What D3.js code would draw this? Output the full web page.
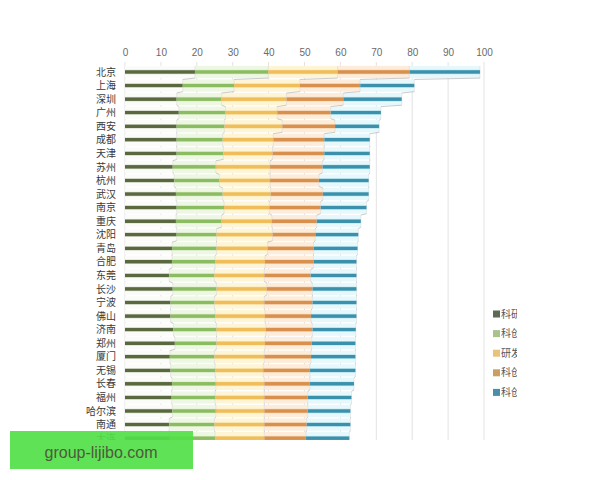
<!DOCTYPE html>
<html>
<head>
<meta charset="utf-8">
<script src="https://cdn.jsdelivr.net/npm/d3@7"></script>
<style>
  html, body { margin: 0; padding: 0; background: #fff; }
  svg { display: block; }
  text { font-family: "Noto Sans CJK SC", "Noto Sans", sans-serif; }
</style>
</head>
<body>
<div id="chart"></div>
<script>
// ---- data ----
const cities = ["北京","上海","深圳","广州","西安","成都","天津","苏州","杭州","武汉","南京","重庆","沈阳","青岛","合肥","东莞","长沙","宁波","佛山","济南","郑州","厦门","无锡","长春","福州","哈尔滨","南通","大连"];
const seriesNames = ["科研投入","科创人才","研发产出","科创企业","科创环境"];
const s1 = [19.5,16.1,14.4,15.0,14.4,14.4,14.4,13.3,13.7,14.2,14.4,14.2,14.4,13.1,13.1,12.3,13.3,12.7,12.7,13.5,13.9,12.5,12.7,13.1,13.0,13.2,12.3,12.5];
const s2 = [20.4,14.3,12.5,13.0,13.3,12.8,13.0,12.0,12.6,13.0,13.2,12.7,11.1,12.4,12.0,12.6,12.2,12.2,12.4,12.0,11.6,12.4,12.4,12.2,12.1,12.1,12.6,12.6];
const s3 = [19.3,18.3,18.1,14.4,16.1,14.1,13.7,15.1,14.1,13.4,12.6,14.0,15.6,14.2,13.9,13.9,14.0,13.9,13.9,13.7,13.5,13.9,13.4,13.5,13.7,13.5,13.9,13.7];
const s4 = [20.0,16.8,15.8,14.9,14.7,14.2,14.4,14.6,13.6,14.5,14.3,12.5,11.9,12.8,13.5,12.9,12.7,13.4,12.8,13.0,13.0,13.0,13.0,12.7,12.1,12.1,11.8,11.6];
const s5 = [19.7,15.1,16.3,14.0,12.3,12.7,12.7,13.2,13.9,12.8,12.8,12.3,12.0,12.3,12.0,12.8,12.3,12.3,12.7,12.1,12.2,12.4,12.7,12.3,12.2,11.9,12.2,12.1];
const xTicks = [0,10,20,30,40,50,60,70,80,90,100];
const watermark = "group-lijibo.com";

// ---- styles ----
const darkColors  = ["#59683f","#8cbc62","#efbe5a","#d8904e","#3b91ab"];
const midColors   = ["#c9d0bd","#cfe6b8","#f8dfa0","#f1c9a0","#a9dbe8"];
const lightColors = ["#fbfcf9","#eef7e4","#fef4d6","#fcecd9","#e6f8fc"];
const legendColors = ["#5f6a55","#aac28e","#e7c47a","#c8a066","#4a8ea8"];

const W = 600, H = 480;
const svg = d3.select("#chart").append("svg").attr("width", W).attr("height", H);
const defs = svg.append("defs");

const x = d3.scaleLinear().domain([0, 100]).range([125, 484]);
const y = d3.scaleBand().domain(cities).range([65.2, 444.9]).paddingInner(0.1).paddingOuter(0.05);

// gradients for bars
darkColors.forEach((dc, i) => {
  const g = defs.append("linearGradient").attr("id", "grad" + i)
    .attr("x1", 0).attr("y1", 0).attr("x2", 0).attr("y2", 1);
  const stops = [[0, lightColors[i]], [0.28, lightColors[i]], [0.35, midColors[i]], [0.39, dc], [0.61, dc], [0.65, midColors[i]], [0.72, lightColors[i]], [1, lightColors[i]]];
  stops.forEach(s => g.append("stop").attr("offset", s[0]).attr("stop-color", s[1]));
});

defs.append("clipPath").attr("id", "plotClip").append("rect")
  .attr("x", 0).attr("y", 0).attr("width", W).attr("height", 440);
defs.append("clipPath").attr("id", "legClip").append("rect")
  .attr("x", 480).attr("y", 290).attr("width", 37).attr("height", 120);

const plot = svg.append("g").attr("clip-path", "url(#plotClip)");

// gridlines
plot.append("g").selectAll("line").data(xTicks).join("line")
  .attr("x1", d => x(d)).attr("x2", d => x(d))
  .attr("y1", 62).attr("y2", 445)
  .attr("stroke", "#e3e3e3").attr("stroke-width", 1);

// top axis labels
const axis = d3.axisTop(x).tickValues(xTicks).tickSize(0).tickPadding(0);
const ag = svg.append("g").attr("transform", "translate(0,56)").call(axis);
ag.select(".domain").remove();
ag.selectAll("text").attr("fill", "#6a6a6a").style("font-size", "10px")
  .style("font-family", "'Liberation Sans', Arial, sans-serif");

// stacked data
const rows = cities.map((c, i) => ({ city: c, vals: [s1[i], s2[i], s3[i], s4[i], s5[i]] }));
rows.forEach(r => {
  let acc = 0;
  r.segs = r.vals.map((v, k) => { const s = { k, x0: acc, x1: acc + v }; acc += v; return s; });
});

const bh = y.bandwidth();
const rowG = plot.append("g").selectAll("g").data(rows).join("g")
  .attr("transform", d => `translate(0,${y(d.city)})`);
rowG.selectAll("rect").data(d => d.segs).join("rect")
  .attr("x", d => x(d.x0)).attr("width", d => x(d.x1) - x(d.x0))
  .attr("y", 0).attr("height", bh)
  .attr("fill", d => `url(#grad${d.k})`);

// series lines
const sl = plot.append("g").attr("fill", "none").attr("stroke", "#b4b4b4").attr("stroke-width", 0.7);
for (let k = 0; k < 5; k++) {
  for (let i = 0; i < rows.length - 1; i++) {
    const a = rows[i].segs[k].x1, b = rows[i + 1].segs[k].x1;
    sl.append("path").attr("d",
      `M${x(a)},${y(rows[i].city) + bh} L${x(b)},${y(rows[i + 1].city)}`);
  }
  rows.forEach(r => {
    sl.append("path").attr("d", `M${x(r.segs[k].x1)},${y(r.city)} V${y(r.city) + bh}`)
      .attr("stroke-opacity", 0.35);
  });
}

// city labels
plot.append("g").selectAll("text").data(cities).join("text")
  .attr("x", 116).attr("y", d => y(d) + y.bandwidth() / 2)
  .attr("dy", "0.36em").attr("text-anchor", "end")
  .attr("fill", "#3a3a3a").style("font-size", "10px").text(d => d);

// legend
const leg = svg.append("g").attr("clip-path", "url(#legClip)");
const li = leg.selectAll("g").data(seriesNames).join("g")
  .attr("transform", (d, i) => `translate(493,${314 + i * 19.6})`);
li.append("rect").attr("x", 0).attr("y", -3.5).attr("width", 7).attr("height", 7)
  .attr("fill", (d, i) => legendColors[i]);
li.append("text").attr("x", 8).attr("dy", "0.36em").attr("fill", "#555")
  .style("font-size", "10px").text(d => d);

// watermark
const wm = svg.append("g");
wm.append("rect").attr("x", 10).attr("y", 431).attr("width", 183).attr("height", 38)
  .attr("fill", "#52e048").attr("fill-opacity", 0.92);
wm.append("text").attr("x", 101).attr("y", 452).attr("dy", "0.35em")
  .attr("text-anchor", "middle").attr("fill", "#4e5a3c")
  .style("font-family", "'Liberation Sans', Arial, sans-serif").style("font-size", "16px")
  .text(watermark);
</script>
</body>
</html>
